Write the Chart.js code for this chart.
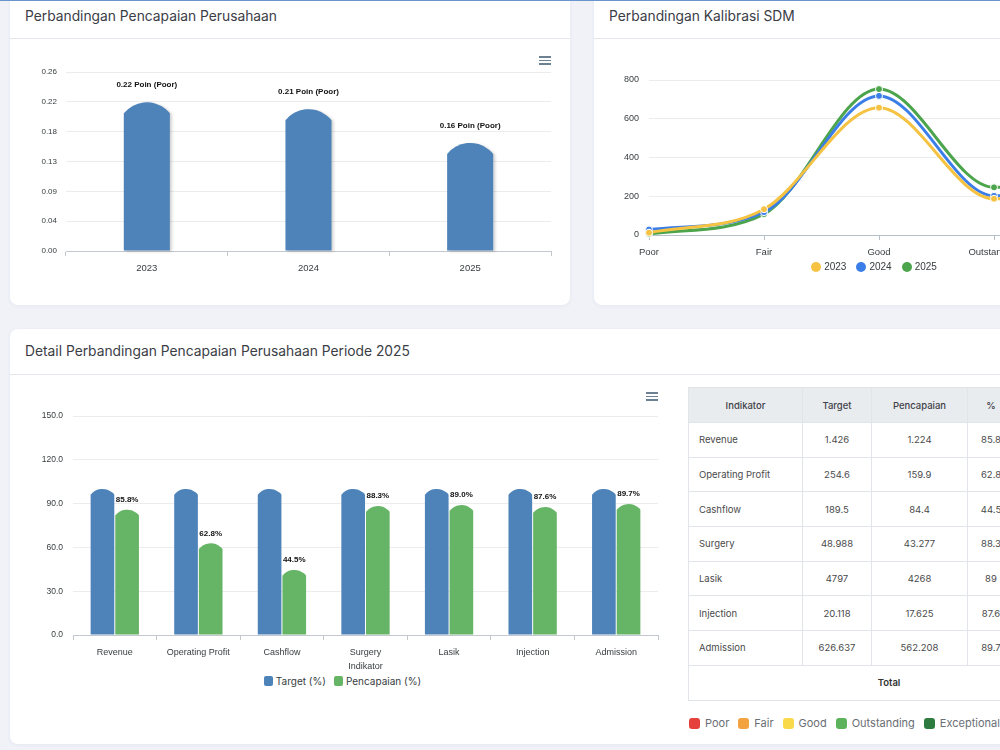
<!DOCTYPE html>
<html>
<head>
<meta charset="utf-8">
<script src="https://cdn.jsdelivr.net/npm/chart.js@4.4.0/dist/chart.umd.min.js"></script>
<style>
  body { margin:0; width:1000px; height:750px; overflow:hidden; background:#f0f2f8; position:relative; font-family:Inter, "Open Sans", sans-serif; }
  .abs { position:absolute; }
  .topline { left:0; top:0; width:1000px; height:1px; background:#6b94cc; z-index:5; }
  .card { position:absolute; background:#fff; border-radius:8px; box-shadow:0 1px 4px rgba(40,50,80,0.05); }
  .divider { position:absolute; height:1px; background:#e3e6ea; }
  .title { position:absolute; font-size:13.8px; line-height:20px; color:#3b3d46; white-space:nowrap; }
  .menu { position:absolute; width:12px; }
  .menu span { display:block; height:1.5px; background:#6e8192; margin-bottom:2px; }
  canvas { position:absolute; }
  .legend { position:absolute; display:flex; align-items:center; white-space:nowrap; color:#373d3f; }
  .legend .it { display:flex; align-items:center; }
  table { position:absolute; border-collapse:collapse; font-size:9.5px; color:#4a4a4a; table-layout:fixed; }
  td, th { border:1px solid #e1e4e8; height:33.7px; padding:0 10px; }
  th { background:#e9ecef; font-weight:500; text-align:center; height:34px; color:#3f4148; }
  td { text-align:center; }
  td.l { text-align:left; }
  .status { position:absolute; display:flex; align-items:center; font-size:11px; color:#6b6e75; white-space:nowrap; }
  .status .sq { width:11px; height:11px; border-radius:3px; margin-right:5px; }
  .status .it { display:flex; align-items:center; margin-right:9px; }
</style>
</head>
<body>
<div class="abs topline"></div>

<div class="card" style="left:10px; top:-10px; width:560px; height:315px;"></div>
<div class="divider" style="left:10px; top:38px; width:560px;"></div>
<div class="title" style="left:25px; top:6px;">Perbandingan Pencapaian Perusahaan</div>
<div class="menu" style="left:539px; top:56px;"><span></span><span></span><span></span></div>
<canvas id="c1" width="560" height="260" style="left:10px; top:40px;"></canvas>

<div class="card" style="left:594px; top:-10px; width:560px; height:315px;"></div>
<div class="divider" style="left:594px; top:38px; width:560px;"></div>
<div class="title" style="left:609px; top:6px;">Perbandingan Kalibrasi SDM</div>
<canvas id="c2" width="560" height="222" style="left:594px; top:40px;"></canvas>
<div class="legend" id="lg2" style="left:594px; width:560px; top:261px; justify-content:center; font-family:Helvetica, Arial, sans-serif; font-size:10px;"></div>

<div class="card" style="left:10px; top:329px; width:1144px; height:415px;"></div>
<div class="divider" style="left:10px; top:374px; width:1144px;"></div>
<div class="title" style="left:25px; top:341px;">Detail Perbandingan Pencapaian Perusahaan Periode 2025</div>
<div class="menu" style="left:646px; top:392px;"><span></span><span></span><span></span></div>
<canvas id="c3" width="670" height="292" style="left:10px; top:380px;"></canvas>
<div class="legend" id="lg3" style="left:10px; width:665px; top:675px; justify-content:center; font-size:10px;"></div>

<table id="tbl" style="left:688px; top:387px; width:475px;">
  <colgroup><col style="width:114px"><col style="width:69px"><col style="width:96px"><col style="width:47px"><col style="width:75px"><col style="width:74px"></colgroup>
  <thead><tr><th>Indikator</th><th>Target</th><th>Pencapaian</th><th>%</th><th>Status</th><th>Skor</th></tr></thead>
  <tbody id="tb"></tbody>
</table>
<div class="status" id="stat" style="left:689px; top:716px;"></div>

<script>
// --- data ---
const years = ['2023', '2024', '2025'];
const skorPoin = [0.216, 0.206, 0.157];
const skorStatus = ['Poor', 'Poor', 'Poor'];
const yTicks1 = ['0.00', '0.04', '0.09', '0.13', '0.18', '0.22', '0.26'];

const kalibrasiLevels = ['Poor', 'Fair', 'Good', 'Outstanding', 'Exceptional'];
const sdm2023 = [12, 133, 657, 187, 240];
const sdm2024 = [28, 118, 718, 202, 255];
const sdm2025 = [6, 108, 753, 246, 290];

const indikator = ['Revenue', 'Operating Profit', 'Cashflow', 'Surgery', 'Lasik', 'Injection', 'Admission'];
const targetPct = [100, 100, 100, 100, 100, 100, 100];
const pencapaianPct = [85.8, 62.8, 44.5, 88.3, 89.0, 87.6, 89.7];
const targetNilai = ['1.426', '254.6', '189.5', '48.988', '4797', '20.118', '626.637'];
const pencapaianNilai = ['1.224', '159.9', '84.4', '43.277', '4268', '17.625', '562.208'];

const statusNames = ['Poor', 'Fair', 'Good', 'Outstanding', 'Exceptional'];
const statusColors = ['#e5403b', '#f2a33f', '#f9d94a', '#5cb35c', '#2e7b3f'];

Chart.defaults.font.family = 'Helvetica, Arial, "Liberation Sans", sans-serif';
Chart.defaults.color = '#373d3f';

// bars with a dome-shaped top
const domeBars = {
  id: 'domeBars',
  beforeDatasetDraw(chart, args, opts) {
    if (args.meta.type !== 'bar') return;
    const ctx = chart.ctx;
    const ds = chart.data.datasets[args.index];
    ctx.save();
    if (opts.shadow) {
      ctx.shadowColor = 'rgba(0,0,0,0.18)';
      ctx.shadowBlur = 3;
      ctx.shadowOffsetX = 2;
      ctx.shadowOffsetY = 1;
    }
    ctx.fillStyle = ds.backgroundColor;
    args.meta.data.forEach(el => {
      const p = el.getProps(['x', 'y', 'base', 'width'], true);
      const w = p.width - (opts.gap || 0);
      const s = Math.min(w * opts.sag, p.base - p.y);
      const R = (w * w / 4 + s * s) / (2 * s);
      const th = Math.asin(Math.min(1, (w / 2) / R));
      ctx.beginPath();
      ctx.moveTo(p.x - w / 2, p.base);
      ctx.lineTo(p.x - w / 2, p.y + s);
      ctx.arc(p.x, p.y + R, R, -Math.PI / 2 - th, -Math.PI / 2 + th);
      ctx.lineTo(p.x + w / 2, p.base);
      ctx.closePath();
      ctx.fill();
    });
    ctx.restore();
    return false;
  }
};

const valueLabels = {
  id: 'valueLabels',
  afterDatasetsDraw(chart, args, opts) {
    const meta = chart.getDatasetMeta(opts.dataset);
    const vals = chart.data.datasets[opts.dataset].data;
    const ctx = chart.ctx;
    ctx.save();
    ctx.font = 'bold 8px Helvetica, Arial, sans-serif';
    ctx.fillStyle = '#111';
    ctx.textAlign = 'center';
    ctx.textBaseline = 'middle';
    meta.data.forEach((el, i) => {
      ctx.fillText(opts.format(vals[i], i), el.x, el.y - opts.offset);
    });
    ctx.restore();
  }
};

// chart 1
new Chart(document.getElementById('c1'), {
  type: 'bar',
  data: {
    labels: years,
    datasets: [{ data: skorPoin, backgroundColor: '#4d83b9', categoryPercentage: 0.285, barPercentage: 1 }]
  },
  options: {
    responsive: false, animation: false,
    layout: { padding: { top: 32, right: 19, left: 0, bottom: 0 } },
    plugins: {
      legend: { display: false }, tooltip: { enabled: false },
      domeBars: { sag: 0.24, gap: 0, shadow: true },
      valueLabels: { dataset: 0, offset: 17, format: (v, i) => v.toFixed(2) + ' Poin (' + skorStatus[i] + ')' }
    },
    scales: {
      x: {
        grid: { drawOnChartArea: false, tickLength: 5, color: '#c3c8ce' },
        border: { color: '#c3c8ce' },
        ticks: { padding: 7, font: { size: 9.5 } },
        afterFit(s) { s.height = 49; }
      },
      y: {
        min: 0, max: 0.26,
        ticks: { count: 7, padding: 9, font: { size: 8 }, callback: (v, i) => yTicks1[i] },
        grid: { color: '#ececec', drawTicks: false },
        border: { display: false },
        afterFit(s) { s.width = 56; }
      }
    }
  },
  plugins: [domeBars, valueLabels]
});

// chart 2
const lineColors = ['#f5c242', '#3b7ee8', '#4ca54c'];
const lineSeries = [sdm2023, sdm2024, sdm2025];
new Chart(document.getElementById('c2'), {
  type: 'line',
  data: {
    labels: kalibrasiLevels,
    datasets: lineSeries.map((d, i) => ({
      label: years[i], data: d, borderColor: lineColors[i], backgroundColor: lineColors[i],
      borderWidth: 3, cubicInterpolationMode: 'monotone', pointRadius: 3.5,
      pointBackgroundColor: lineColors[i], pointBorderColor: '#fff', pointBorderWidth: 1, clip: false
    }))
  },
  options: {
    responsive: false, animation: false,
    layout: { padding: { top: 40, right: 45, left: 0, bottom: 0 } },
    plugins: { legend: { display: false }, tooltip: { enabled: false } },
    scales: {
      x: {
        offset: false,
        grid: { drawOnChartArea: false, tickLength: 5, color: '#b7c0c9' },
        border: { color: '#b7c0c9' },
        ticks: { padding: 7, font: { size: 9.5 } },
        afterFit(s) { s.height = 27; }
      },
      y: {
        min: 0, max: 800,
        ticks: { stepSize: 200, padding: 10, font: { size: 9 } },
        grid: { color: '#ececec', drawTicks: false },
        border: { display: false },
        afterFit(s) { s.width = 55; }
      }
    }
  }
});
document.getElementById('lg2').innerHTML = years.map((y, i) =>
  '<span class="it" style="margin:0 5px;"><span style="width:10px;height:10px;border-radius:50%;background:' + lineColors[i] +
  ';margin-right:3px;display:inline-block"></span>' + y + '</span>').join('');

// chart 3
const barColors = ['#4d83b9', '#66b466'];
const barNames = ['Target (%)', 'Pencapaian (%)'];
new Chart(document.getElementById('c3'), {
  type: 'bar',
  data: {
    labels: indikator,
    datasets: [
      { label: barNames[0], data: targetPct, backgroundColor: barColors[0], categoryPercentage: 0.59, barPercentage: 1 },
      { label: barNames[1], data: pencapaianPct, backgroundColor: barColors[1], categoryPercentage: 0.59, barPercentage: 1 }
    ]
  },
  options: {
    responsive: false, animation: false,
    layout: { padding: { top: 36, right: 22, left: 0, bottom: 0 } },
    plugins: {
      legend: { display: false }, tooltip: { enabled: false },
      domeBars: { sag: 0.24, gap: 1, shadow: false },
      valueLabels: { dataset: 1, offset: 10, format: v => v.toFixed(1) + '%' }
    },
    scales: {
      x: {
        grid: { drawOnChartArea: false, tickLength: 5, color: '#c3c8ce' },
        border: { color: '#c3c8ce' },
        ticks: { padding: 7, font: { size: 9 } },
        title: { display: true, text: 'Indikator', font: { size: 9 }, padding: 0 },
        afterFit(s) { s.height = 37; }
      },
      y: {
        min: 0, max: 150,
        ticks: { stepSize: 30, padding: 10, font: { size: 8.5 }, callback: v => v.toFixed(1) },
        grid: { color: '#ececec', drawTicks: false },
        border: { display: false },
        afterFit(s) { s.width = 63; }
      }
    }
  },
  plugins: [domeBars, valueLabels]
});
document.getElementById('lg3').innerHTML = barNames.map((n, i) =>
  '<span class="it" style="margin:0 4px;"><span style="width:9px;height:10px;border-radius:2px;background:' + barColors[i] +
  ';margin-right:3px;display:inline-block"></span>' + n + '</span>').join('');

// table
let rows = '';
indikator.forEach((n, i) => {
  rows += '<tr><td class="l">' + n + '</td><td>' + targetNilai[i] + '</td><td>' + pencapaianNilai[i] +
    '</td><td>' + String(pencapaianPct[i]) + '</td><td></td><td></td></tr>';
});
rows += '<tr><td colspan="5" style="font-weight:600;color:#333;height:34px;">Total</td><td></td></tr>';
document.getElementById('tb').innerHTML = rows;

document.getElementById('stat').innerHTML = statusNames.map((n, i) =>
  '<span class="it"><span class="sq" style="background:' + statusColors[i] + '"></span>' + n + '</span>').join('');
</script>
</body>
</html>
